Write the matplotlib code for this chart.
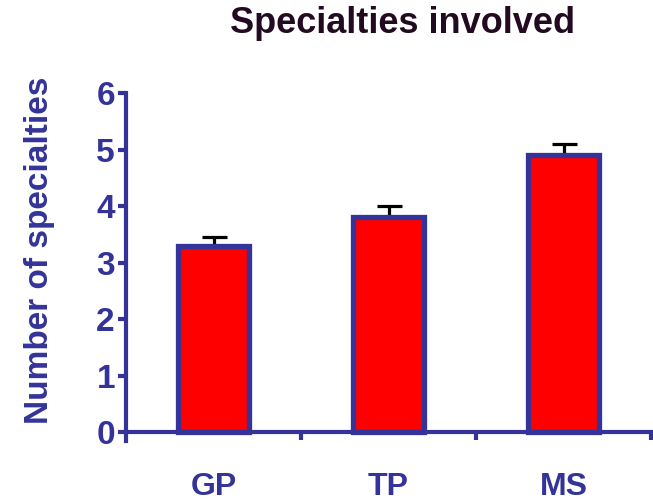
import matplotlib
matplotlib.use("Agg")
import matplotlib.pyplot as plt
from matplotlib.ticker import FixedLocator

categories = ["GP", "TP", "MS"]
means = [3.3, 3.8, 4.9]
sem = [0.15, 0.2, 0.2]

blue = "#333399"
plt.rcParams["font.family"] = ["Liberation Sans", "DejaVu Sans"]
plt.rcParams["font.weight"] = "bold"

fig = plt.figure(figsize=(6.53, 5.03), dpi=100)
ax = fig.add_axes([126 / 653, 62.5 / 503, 525 / 653, 347.5 / 503])

x = range(len(categories))
ax.bar(x, means, width=0.41, color="#ff0000", edgecolor=blue, linewidth=3.8, zorder=2)
ax.errorbar(x, means, yerr=[[0] * len(sem), sem], fmt="none", ecolor="black",
            elinewidth=2.3, capsize=9, capthick=2.3, zorder=1)

ax.set_xlim(-0.5, 2.5)
ax.set_ylim(-0.15, 6)
for s in ["top", "right"]:
    ax.spines[s].set_visible(False)
ax.spines["bottom"].set_position(("data", 0))
for s in ["left", "bottom"]:
    ax.spines[s].set_color(blue)
    ax.spines[s].set_linewidth(3)
ax.spines["left"].set_bounds(-0.15, 6)

ax.set_yticks(range(7))
ax.tick_params(axis="y", colors=blue, length=6, width=3, labelsize=24, pad=2)
ax.set_xticks(list(x))
ax.set_xticklabels(categories)
ax.tick_params(axis="x", which="major", length=0, colors=blue, labelsize=23, pad=29)
ax.xaxis.set_minor_locator(FixedLocator([0.5, 1.5, 2.5]))
ax.tick_params(axis="x", which="minor", length=6, width=3, color=blue, direction="out")
for lbl in ax.get_xticklabels() + ax.get_yticklabels():
    lbl.set_fontweight("bold")

fig.text(40 / 653, 1 - 250 / 503, "Number of specialties", rotation=90, color=blue,
         fontsize=24, fontweight="bold", ha="center", va="center")
fig.text(403 / 653, 1 - 24 / 503, "Specialties involved", color="#220a20",
         fontsize=26, fontweight="bold", ha="center", va="center")

fig.savefig("out.png", dpi=100)
